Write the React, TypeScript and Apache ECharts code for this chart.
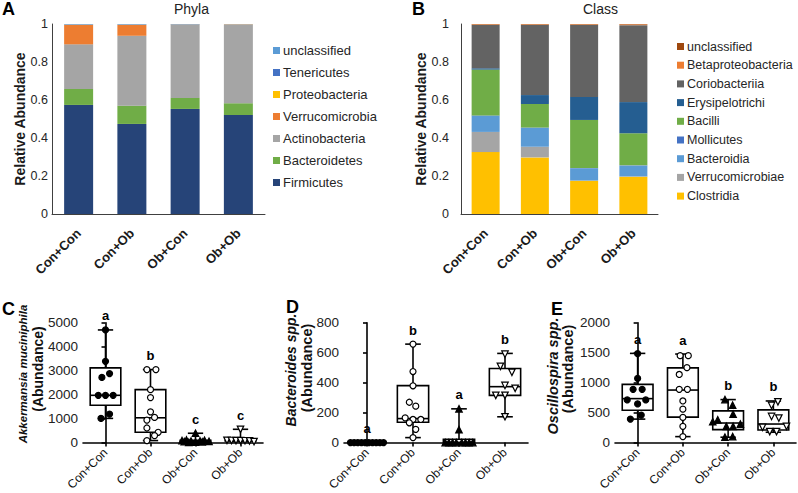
import React, { useEffect, useRef } from "react";
import * as echarts from "echarts";

const FONT = "'Liberation Sans', Arial, Helvetica, sans-serif";

const groups = ["Con+Con", "Con+Ob", "Ob+Con", "Ob+Ob"];

// ---------- Panel A: Phyla (stack order bottom -> top)
const firmicutes = [0.574, 0.474, 0.553, 0.521];
const bacteroidetes = [0.084, 0.096, 0.058, 0.062];
const actinobacteria = [0.235, 0.368, 0.384, 0.412];
const verrucomicrobia = [0.102, 0.057, 0.001, 0.002];
const proteobacteria = [0.001, 0.001, 0.001, 0.001];
const tenericutes = [0.002, 0.002, 0.002, 0.001];
const unclassifiedPhyla = [0.002, 0.002, 0.001, 0.001];
const phylaNames = ["Firmicutes", "Bacteroidetes", "Actinobacteria", "Verrucomicrobia", "Proteobacteria", "Tenericutes", "unclassified"];
const phylaValues = [firmicutes, bacteroidetes, actinobacteria, verrucomicrobia, proteobacteria, tenericutes, unclassifiedPhyla];
const phylaColors = ["#264478", "#70AD47", "#A5A5A5", "#ED7D31", "#FFC000", "#4472C4", "#5B9BD5"];

// ---------- Panel B: Class (stack order bottom -> top)
const clostridia = [0.326, 0.298, 0.175, 0.196];
const verrucomicrobiae = [0.106, 0.056, 0.001, 0.002];
const bacteroidia = [0.085, 0.099, 0.064, 0.056];
const mollicutes = [0.002, 0.002, 0.002, 0.002];
const bacilli = [0.241, 0.124, 0.253, 0.169];
const erysipelotrichi = [0.007, 0.047, 0.121, 0.164];
const coriobacteriia = [0.228, 0.369, 0.379, 0.405];
const betaproteobacteria = [0.003, 0.003, 0.003, 0.004];
const unclassifiedClass = [0.002, 0.002, 0.002, 0.002];
const classNames = ["Clostridia", "Verrucomicrobiae", "Bacteroidia", "Mollicutes", "Bacilli", "Erysipelotrichi", "Coriobacteriia", "Betaproteobacteria", "unclassified"];
const classValues = [clostridia, verrucomicrobiae, bacteroidia, mollicutes, bacilli, erysipelotrichi, coriobacteriia, betaproteobacteria, unclassifiedClass];
const classColors = ["#FFC000", "#A5A5A5", "#5B9BD5", "#4472C4", "#70AD47", "#255E91", "#636363", "#ED7D31", "#9E480E"];

const ratioTicks = [0, 0.2, 0.4, 0.6, 0.8, 1];

// ---------- Panel C: Akkermansia muciniphila  box = [min, q1, median, q3, max]
const akkBox = [
  [1008, 1558, 1971, 3116, 4698],
  [83, 429, 1033, 2207, 3045],
  [0, 20, 50, 90, 388],
  [40, 70, 80, 92, 553],
];
const akkPoints = [
  [4698, 3388, 2880, 2715, 1971, 1971, 1971, 1186, 1008],
  [3045, 3045, 2207, 1876, 1281, 1050, 938, 607, 429, 289, 83],
  [388, 110, 95, 80, 70, 60, 50, 40, 30, 20, 10],
  [553, 90, 85, 80, 80, 75, 70, 40],
];
const akkJitter = [
  [0, 0, 0.09, -0.08, -0.16, 0, 0.17, 0.09, -0.1],
  [-0.08, 0.12, 0, 0, 0, 0.09, -0.08, -0.08, 0.17, 0.09, -0.08],
  [0, -0.2, 0.2, -0.3, 0.1, -0.1, 0.3, -0.25, 0.15, 0, -0.15],
  [0, -0.3, -0.2, -0.1, 0, 0.1, 0.2, 0.3],
];
const akkLetters = ["a", "b", "c", "c"];

// ---------- Panel D: Bacteroides spp.
const bacBox = [
  [0, 0, 0, 0, 0],
  [33, 135, 160, 380, 657],
  [0, 0, 0, 22, 225],
  [172, 315, 373, 494, 595],
];
const bacPoints = [
  [0, 0, 0, 0, 0, 0, 0, 0, 0, 0],
  [657, 474, 379, 269, 243, 165, 154, 154, 132, 88, 33],
  [225, 86, 0, 0, 0, 0, 0, 0, 0, 0],
  [590, 509, 469, 381, 362, 315, 315, 172],
];
const bacJitter = [
  [-0.36, -0.28, -0.2, -0.12, -0.04, 0.04, 0.12, 0.2, 0.28, 0.36],
  [0, 0, 0, -0.08, 0.06, -0.17, 0, 0.17, -0.08, 0.06, 0],
  [0, 0, -0.3, -0.22, -0.14, -0.06, 0.06, 0.14, 0.22, 0.3],
  [0, -0.1, 0.15, 0, 0.22, -0.2, 0, 0],
];
const bacLetters = ["a", "b", "a", "b"];

// ---------- Panel E: Oscillospira spp.
const oscBox = [
  [391, 540, 733, 970, 1488],
  [99, 425, 876, 1246, 1477],
  [89, 215, 326, 529, 717],
  [172, 210, 309, 545, 694],
];
const oscPoints = [
  [1483, 1070, 888, 888, 711, 711, 645, 458, 391],
  [1450, 1450, 1250, 1136, 888, 888, 694, 557, 420, 271, 99],
  [717, 623, 474, 380, 347, 271, 271, 309, 89, 99],
  [680, 620, 436, 408, 254, 271, 182, 182],
];
const oscJitter = [
  [0, 0, -0.1, 0.1, -0.23, 0.18, 0, 0.08, -0.16],
  [-0.06, 0.12, 0.09, -0.08, -0.08, 0.1, 0, 0, 0, 0, 0],
  [-0.07, 0.1, 0.11, -0.23, -0.34, -0.04, 0.11, 0.27, -0.07, 0.1],
  [0.1, -0.04, -0.04, 0.12, -0.24, 0.29, -0.08, 0.07],
];
const oscLetters = ["a", "a", "b", "b"];

const makeBoxRender = (letters: string[]) => (params: any, api: any) => {
  const i = api.value(0);
  const ys = [1, 2, 3, 4, 5].map((k) => api.coord([i, api.value(k)])[1]);
  const cx = api.coord([i, 0])[0];
  const band = api.size([1, 0])[0];
  const bw = band * 0.68;
  const cw = bw * 0.5;
  const [yMin, yQ1, yMed, yQ3, yMax] = ys;
  const st = { stroke: "#000", lineWidth: 1.6 };
  return {
    type: "group",
    children: [
      { type: "line", shape: { x1: cx, y1: yMax, x2: cx, y2: yQ3 }, style: st },
      { type: "line", shape: { x1: cx, y1: yQ1, x2: cx, y2: yMin }, style: st },
      { type: "line", shape: { x1: cx - cw / 2, y1: yMax, x2: cx + cw / 2, y2: yMax }, style: st },
      { type: "line", shape: { x1: cx - cw / 2, y1: yMin, x2: cx + cw / 2, y2: yMin }, style: st },
      { type: "rect", shape: { x: cx - bw / 2, y: yQ3, width: bw, height: Math.max(yQ1 - yQ3, 0.5) }, style: { stroke: "#000", lineWidth: 1.6, fill: "#fff" } },
      { type: "line", shape: { x1: cx - bw / 2, y1: yMed, x2: cx + bw / 2, y2: yMed }, style: st },
      {
        type: "text",
        x: cx,
        y: yMax - 14,
        style: { text: letters[params.dataIndex], fontFamily: FONT, fontSize: 13, fontWeight: "bold", fill: "#000", align: "center", verticalAlign: "middle" },
      },
    ],
  };
};

const symbolDefs = [
  { symbol: "circle", fill: "#000", size: 6, rotate: 0 },
  { symbol: "circle", fill: "#fff", size: 6, rotate: 0 },
  { symbol: "triangle", fill: "#000", size: 6.5, rotate: 0 },
  { symbol: "triangle", fill: "#fff", size: 6.5, rotate: 180 },
];

function boxPanelSeries(catAxis: number, valAxis: number, yAxis: number, box: number[][], pts: number[][], jit: number[][], letters: string[]) {
  const out: any[] = [];
  out.push({
    type: "custom",
    xAxisIndex: catAxis,
    yAxisIndex: yAxis,
    renderItem: makeBoxRender(letters),
    encode: { x: 0, y: [1, 2, 3, 4, 5] },
    data: box.map((b, i) => [i, ...b]),
    clip: false,
    z: 2,
    silent: true,
  });
  pts.forEach((vals, g) => {
    const d = symbolDefs[g];
    out.push({
      type: "scatter",
      xAxisIndex: valAxis,
      yAxisIndex: yAxis,
      symbol: d.symbol,
      symbolSize: d.size,
      symbolRotate: d.rotate,
      clip: false,
      z: 3,
      itemStyle: { color: d.fill, borderColor: "#000", borderWidth: 1.2, opacity: 1 },
      data: vals.map((v, k) => [g + jit[g][k], v]),
      silent: true,
    });
  });
  return out;
}

const barXAxis = (grid: number) => ({
  type: "category",
  gridIndex: grid,
  data: groups,
  axisLine: { show: true, lineStyle: { color: "#404040", width: 1 } },
  axisTick: { show: false },
  axisLabel: { rotate: 45, margin: 17, fontFamily: FONT, fontSize: 13, fontWeight: "bold", color: "#1a1a1a" },
});

const barYAxis = (grid: number, gap: number, margin: number) => ({
  type: "value",
  gridIndex: grid,
  min: 0,
  max: 1,
  interval: 0.2,
  name: "Relative Abundance",
  nameLocation: "middle",
  nameGap: gap,
  nameTextStyle: { fontFamily: FONT, fontSize: 14, fontWeight: "bold", color: "#1a1a1a" },
  axisLine: { show: true, lineStyle: { color: "#404040", width: 1 } },
  axisTick: { show: false },
  splitLine: { show: false },
  axisLabel: { margin, fontFamily: FONT, fontSize: 12.5, color: "#262626", formatter: (v: number) => String(ratioTicks.find((t) => Math.abs(t - v) < 1e-6) ?? v) },
});

const boxCatAxis = (grid: number) => ({
  type: "category",
  gridIndex: grid,
  data: groups,
  axisLine: { show: true, lineStyle: { color: "#000", width: 1.6 } },
  axisTick: { show: true, alignWithLabel: true, length: 4, lineStyle: { color: "#000", width: 1.6 } },
  axisLabel: { rotate: 45, margin: 8, fontFamily: FONT, fontSize: 12, color: "#111" },
});

const boxValXAxis = (grid: number) => ({
  type: "value",
  gridIndex: grid,
  min: -0.5,
  max: 3.5,
  show: false,
});

const boxYAxis = (grid: number, max: number, interval: number) => ({
  type: "value",
  gridIndex: grid,
  min: 0,
  max,
  interval,
  axisLine: { show: true, lineStyle: { color: "#000", width: 1.6 } },
  axisTick: { show: true, length: 4, lineStyle: { color: "#000", width: 1.6 } },
  splitLine: { show: false },
  axisLabel: { margin: 5, fontFamily: FONT, fontSize: 13.5, color: "#222", formatter: (v: number) => String(v) },
});

// rotated two-line axis titles of the box panels
const boxTitles = [
  { text: "Akkermansia muciniphila", italic: true, x: 23, y: 374, size: 11.5 },
  { text: "(Abundance)", italic: false, x: 38, y: 369, size: 14 },
  { text: "Bacteroides spp.", italic: true, x: 291, y: 370, size: 14 },
  { text: "(Abundance)", italic: false, x: 307, y: 368, size: 14.5 },
  { text: "Oscillospira spp.", italic: true, x: 553, y: 376, size: 14.5 },
  { text: "(Abundance)", italic: false, x: 568, y: 369, size: 14.5 },
];

const titleText = (text: string, left: number, top: number, size: number, bold: boolean) => ({
  text,
  left,
  top,
  padding: 0,
  textStyle: { fontFamily: FONT, fontSize: size, fontWeight: bold ? "bold" : "normal", color: bold ? "#000" : "#222" },
});

export default function App() {
  const ref = useRef<HTMLDivElement>(null);
  useEffect(() => {
    if (!ref.current) return;
    const chart = echarts.init(ref.current, undefined, { renderer: "svg" });

    const phylaSeries = phylaNames.map((name, k) => ({
      type: "bar",
      name,
      stack: "phyla",
      xAxisIndex: 0,
      yAxisIndex: 0,
      barWidth: 29,
      itemStyle: { color: phylaColors[k] },
      data: phylaValues[k],
      silent: true,
    }));
    const classSeries = classNames.map((name, k) => ({
      type: "bar",
      name,
      stack: "class",
      xAxisIndex: 1,
      yAxisIndex: 1,
      barWidth: 28,
      itemStyle: { color: classColors[k] },
      data: classValues[k],
      silent: true,
    }));

    const option: any = {
      animation: false,
      backgroundColor: "#fff",
      textStyle: { fontFamily: FONT },
      title: [
        titleText("A", 2, 0, 18, true),
        titleText("Phyla", 174, 2, 14, false),
        titleText("B", 412, 0, 18, true),
        titleText("Class", 583, 2, 14, false),
        titleText("C", 2, 300, 18, true),
        titleText("D", 286, 298, 18, true),
        titleText("E", 551, 300, 18, true),
      ],
      graphic: boxTitles.map((t) => ({
        type: "text",
        x: t.x,
        y: t.y,
        rotation: Math.PI / 2,
        silent: true,
        style: {
          text: t.text,
          fontFamily: FONT,
          fontSize: t.size,
          fontWeight: "bold",
          fontStyle: t.italic ? "italic" : "normal",
          fill: "#111",
          align: "center",
          verticalAlign: "middle",
        },
      })),
      legend: [
        {
          orient: "vertical",
          left: 268,
          top: 39,
          itemWidth: 7,
          itemHeight: 7,
          itemGap: 9,
          icon: "rect",
          selectedMode: false,
          textStyle: { fontFamily: FONT, fontSize: 13, color: "#262626", padding: [0, 0, 0, -2] },
          data: phylaNames.map((n, k) => ({ name: n, itemStyle: { color: phylaColors[k] } })).reverse(),
        },
        {
          orient: "vertical",
          left: 672,
          top: 35,
          itemWidth: 7,
          itemHeight: 7,
          itemGap: 5.7,
          icon: "rect",
          selectedMode: false,
          textStyle: { fontFamily: FONT, fontSize: 12.5, color: "#262626", padding: [0, 0, 0, -2] },
          data: classNames.map((n, k) => ({ name: n, itemStyle: { color: classColors[k] } })).reverse(),
        },
      ],
      grid: [
        { left: 52, top: 24, width: 213, height: 190 },
        { left: 461, top: 24, width: 197, height: 190 },
        { left: 83, top: 322.7, width: 180, height: 121 },
        { left: 344, top: 322.7, width: 184, height: 121 },
        { left: 615, top: 322.7, width: 181, height: 121 },
      ],
      xAxis: [
        barXAxis(0),
        barXAxis(1),
        boxCatAxis(2),
        boxValXAxis(2),
        boxCatAxis(3),
        boxValXAxis(3),
        boxCatAxis(4),
        boxValXAxis(4),
      ],
      yAxis: [
        barYAxis(0, 25, 4),
        barYAxis(1, 33, 12),
        boxYAxis(2, 5000, 1000),
        boxYAxis(3, 800, 200),
        boxYAxis(4, 2000, 500),
      ],
      series: [
        ...phylaSeries,
        ...classSeries,
        ...boxPanelSeries(2, 3, 2, akkBox, akkPoints, akkJitter, akkLetters),
        ...boxPanelSeries(4, 5, 3, bacBox, bacPoints, bacJitter, bacLetters),
        ...boxPanelSeries(6, 7, 4, oscBox, oscPoints, oscJitter, oscLetters),
      ],
    };
    chart.setOption(option);
    return () => chart.dispose();
  }, []);
  return <div ref={ref} style={{ position: "fixed", left: 0, top: 0, width: 798, height: 493 }} />;
}
